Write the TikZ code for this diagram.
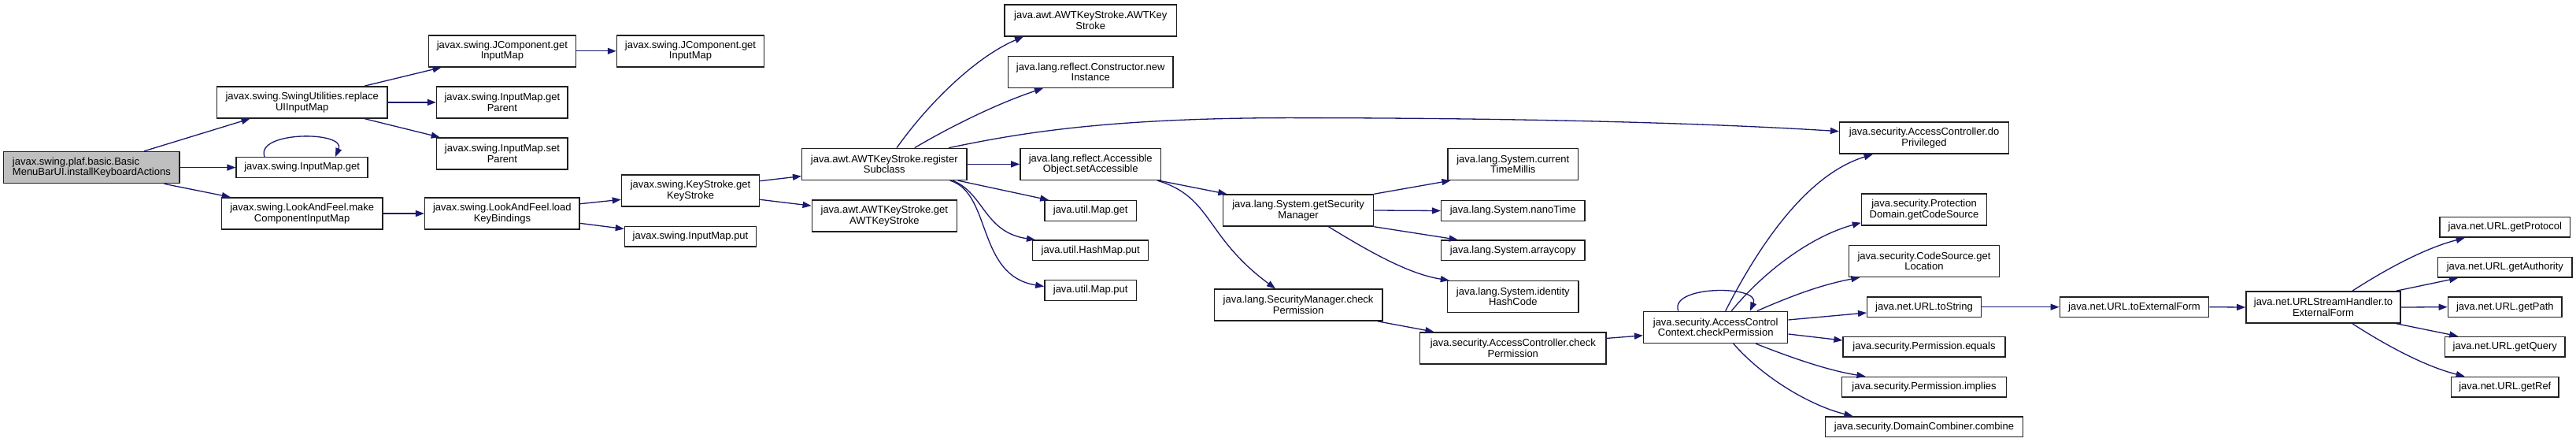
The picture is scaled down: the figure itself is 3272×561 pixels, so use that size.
\documentclass[tikz,border=0pt]{standalone}
\usepackage{fontspec}
\setmainfont{Liberation Sans}
\usetikzlibrary{arrows.meta}
\definecolor{edgec}{HTML}{191970}
\definecolor{mainfill}{HTML}{BFBFBF}
\definecolor{boxc}{HTML}{202020}
\begin{document}
\begin{tikzpicture}[x=1pt,y=-1pt,
 box/.style={draw=boxc, line width=1.5pt, fill=white, inner sep=0pt, minimum height=40pt, align=center, font=\fontsize{13}{13.5}\selectfont, text=black},
 boxa/.style={box, minimum height=25.7pt},
 edge/.style={draw=edgec, line width=1.3pt, -{Triangle[length=11pt,width=8pt]}},
]
\useasboundingbox (0,0) rectangle (3272,561);
\fill[white] (0,0) rectangle (3272,561);

% column 1
\node[box, minimum width=223.5pt, fill=mainfill, align=left] (main) at (116.4,212.6) {javax.swing.plaf.basic.Basic\\MenuBarUI.installKeyboardActions};
% column 2
\node[box, minimum width=216.3pt] (rep) at (383.7,129.9) {javax.swing.SwingUtilities.replace\\UIInputMap};
\node[boxa, minimum width=167pt] (imget) at (383.7,212.6) {javax.swing.InputMap.get};
\node[box, minimum width=204.7pt] (mcim) at (383.7,271) {javax.swing.LookAndFeel.make\\ComponentInputMap};
% column 3
\node[box, minimum width=186.8pt] (jc1) at (637.9,64.8) {javax.swing.JComponent.get\\InputMap};
\node[box, minimum width=166.5pt] (gpar) at (637.9,129.9) {javax.swing.InputMap.get\\Parent};
\node[box, minimum width=166.5pt] (spar) at (637.9,195) {javax.swing.InputMap.set\\Parent};
\node[box, minimum width=196.4pt] (lkb) at (637.9,271) {javax.swing.LookAndFeel.load\\KeyBindings};
% column 4
\node[box, minimum width=187pt] (jc2) at (877,64.8) {javax.swing.JComponent.get\\InputMap};
\node[box, minimum width=175pt] (gks) at (877,241.9) {javax.swing.KeyStroke.get\\KeyStroke};
\node[boxa, minimum width=167pt] (imput) at (877,300.4) {javax.swing.InputMap.put};
% column 5
\node[box, minimum width=209.3pt] (reg) at (1123.3,208.4) {java.awt.AWTKeyStroke.register\\Subclass};
\node[box, minimum width=184pt] (gawt) at (1123.3,274) {java.awt.AWTKeyStroke.get\\AWTKeyStroke};
% column 6
\node[box, minimum width=218.7pt] (awt) at (1385.2,25.8) {java.awt.AWTKeyStroke.AWTKey\\Stroke};
\node[box, minimum width=209.8pt] (ninst) at (1385.2,91.3) {java.lang.reflect.Constructor.new\\Instance};
\node[box, minimum width=178.5pt] (sacc) at (1385.2,208.4) {java.lang.reflect.Accessible\\Object.setAccessible};
\node[boxa, minimum width=116.5pt] (mget) at (1385.2,267.5) {java.util.Map.get};
\node[boxa, minimum width=147pt] (hput) at (1385.2,317.9) {java.util.HashMap.put};
\node[boxa, minimum width=116.5pt] (mput) at (1385.2,368.5) {java.util.Map.put};
% column 7
\node[box, minimum width=191pt] (gsm) at (1649.1,267) {java.lang.System.getSecurity\\Manager};
\node[box, minimum width=213.4pt] (smc) at (1649.1,387.1) {java.lang.SecurityManager.check\\Permission};
% column 8
\node[box, minimum width=165.2pt] (ctm) at (1921.8,208.4) {java.lang.System.current\\TimeMillis};
\node[boxa, minimum width=182.2pt] (nano) at (1921.8,267.5) {java.lang.System.nanoTime};
\node[boxa, minimum width=182.7pt] (acopy) at (1921.8,317.9) {java.lang.System.arraycopy};
\node[box, minimum width=166.6pt] (ihc) at (1921.8,376.6) {java.lang.System.identity\\HashCode};
\node[box, minimum width=236.7pt] (acchk) at (1921.8,441.9) {java.security.AccessController.check\\Permission};
% column 9
\node[box, minimum width=183pt] (accc) at (2179.2,415.4) {java.security.AccessControl\\Context.checkPermission};
% column 10
\node[box, minimum width=214.7pt] (dopr) at (2444,175.2) {java.security.AccessController.do\\Privileged};
\node[box, minimum width=159pt] (pdcs) at (2444,265.9) {java.security.Protection\\Domain.getCodeSource};
\node[box, minimum width=190.7pt] (csloc) at (2444,331.4) {java.security.CodeSource.get\\Location};
\node[boxa, minimum width=144.6pt] (urlts) at (2444,389.7) {java.net.URL.toString};
\node[boxa, minimum width=205.8pt] (peq) at (2444,440.3) {java.security.Permission.equals};
\node[boxa, minimum width=209pt] (pimp) at (2444,491.3) {java.security.Permission.implies};
\node[boxa, minimum width=251pt] (dcc) at (2444,541.7) {java.security.DomainCombiner.combine};
% column 11-13
\node[boxa, minimum width=189.4pt] (urltef) at (2711,389.7) {java.net.URL.toExternalForm};
\node[box, minimum width=196.2pt] (ushtef) at (2951,390) {java.net.URLStreamHandler.to\\ExternalForm};
\node[boxa, minimum width=165.8pt] (gprot) at (3181.8,288.4) {java.net.URL.getProtocol};
\node[boxa, minimum width=170.2pt] (gauth) at (3181.8,339.2) {java.net.URL.getAuthority};
\node[boxa, minimum width=144.8pt] (gpath) at (3181.8,389.7) {java.net.URL.getPath};
\node[boxa, minimum width=152.2pt] (gquery) at (3181.8,440.3) {java.net.URL.getQuery};
\node[boxa, minimum width=136.7pt] (gref) at (3181.8,491.3) {java.net.URL.getRef};

% edges
\draw[edge] ([xshift=66.5]main.north) -- ([xshift=-66.1]rep.south);
\draw[edge] (main.east) -- (imget.west);
\draw[edge] ([xshift=92.2]main.south) -- ([xshift=-90.9]mcim.north);
\draw[edge] ([xshift=-47.7]imget.north) .. controls +(-12,-33) and +(14,-33) .. ([xshift=42.3]imget.north);

\draw[edge] ([xshift=79.3]rep.north) -- ([xshift=-77.3]jc1.south);
\draw[edge] (rep.east) -- (gpar.west);
\draw[edge] ([xshift=79.3]rep.south) -- ([xshift=-79.2]spar.north);
\draw[edge] (jc1.east) -- (jc2.west);
\draw[edge] (mcim.east) -- (lkb.west);
\draw[edge] ([yshift=12.3]lkb.east) -- ([yshift=-11.4]gks.west);
\draw[edge] ([yshift=-12.4]lkb.east) -- ([yshift=9.9]imput.west);
\draw[edge] ([yshift=12.2]gks.east) -- ([yshift=-15.2]reg.west);
\draw[edge] ([yshift=-11.4]gks.east) -- ([yshift=12.8]gawt.west);

\draw[edge] ([xshift=15.7]reg.north) .. controls (1180,130) and (1240,72) .. ([xshift=-85.2]awt.south);
\draw[edge] ([xshift=38.4]reg.north) .. controls (1205,162) and (1265,132) .. ([xshift=-60.2]ninst.south);
\draw[edge] ([xshift=81.9]reg.north) .. controls (1290,170) and (1400,150) .. (1634,149.6) .. controls (1900,149.6) and (2150,155) .. ([yshift=8.5]dopr.west);
\draw[edge] (reg.east) -- (sacc.west);
\draw[edge] ([xshift=93.4]reg.south) -- ([xshift=6]mget.north west);
\draw[edge] ([xshift=86.7]reg.south) .. controls (1250,245) and (1250,295) .. ([xshift=4]hput.north west);
\draw[edge] ([xshift=83.4]reg.south) .. controls (1260,245) and (1240,350) .. ([yshift=5]mput.west);

\draw[edge] ([xshift=86.5]sacc.south) -- ([xshift=-90.8]gsm.north);
\draw[edge] ([xshift=84.8]sacc.south) .. controls (1540,250) and (1530,300) .. ([xshift=-29.1]smc.north);

\draw[edge] (gsm.north east) -- ([xshift=4]ctm.south west);
\draw[edge] (gsm.east) -- (nano.west);
\draw[edge] (gsm.south east) -- ([xshift=22]acopy.north west);
\draw[edge] ([xshift=38.4]gsm.south) .. controls (1740,320) and (1790,348) .. ([xshift=3]ihc.north west);

\draw[edge] ([xshift=100.9]smc.south) -- ([xshift=-100.4]acchk.north);
\draw[edge] ([yshift=12.5]acchk.east) -- ([yshift=-10.4]accc.west);

\draw[edge] ([xshift=-47.5]accc.north) .. controls +(-12,-33) and +(14,-33) .. ([xshift=43.8]accc.north);
\draw[edge] ([xshift=12.5]accc.north) .. controls (2240,300) and (2300,220) .. ([xshift=-65.4]dopr.south);
\draw[edge] ([xshift=20.1]accc.north) .. controls (2240,345) and (2300,300) .. ([yshift=-16.8]pdcs.west);
\draw[edge] ([xshift=52.5]accc.north) .. controls (2270,378) and (2310,362) .. ([xshift=14.4]csloc.south west);
\draw[edge] ([yshift=9.4]accc.east) -- ([yshift=-7.3]urlts.west);
\draw[edge] ([yshift=-8.6]accc.east) -- ([yshift=8.3]peq.west);
\draw[edge] ([xshift=50.8]accc.south) .. controls (2270,452) and (2320,470) .. ([xshift=30.7]pimp.north west);
\draw[edge] ([xshift=22.5]accc.south) .. controls (2240,480) and (2300,515) .. ([xshift=35.7]dcc.north west);

\draw[edge] (urlts.east) -- (urltef.west);
\draw[edge] (urltef.east) -- (ushtef.west);
\draw[edge] ([xshift=36.9]ushtef.north) .. controls (3030,342) and (3080,315) .. ([xshift=32.5]gprot.south west);
\draw[edge] ([xshift=92.6]ushtef.north) -- ([xshift=26.2]gauth.south west);
\draw[edge] (ushtef.east) -- (gpath.west);
\draw[edge] ([xshift=92.6]ushtef.south) -- ([xshift=17.2]gquery.north west);
\draw[edge] ([xshift=36.9]ushtef.south) .. controls (3030,438) and (3080,465) .. ([xshift=17.9]gref.north west);
\end{tikzpicture}
\end{document}
